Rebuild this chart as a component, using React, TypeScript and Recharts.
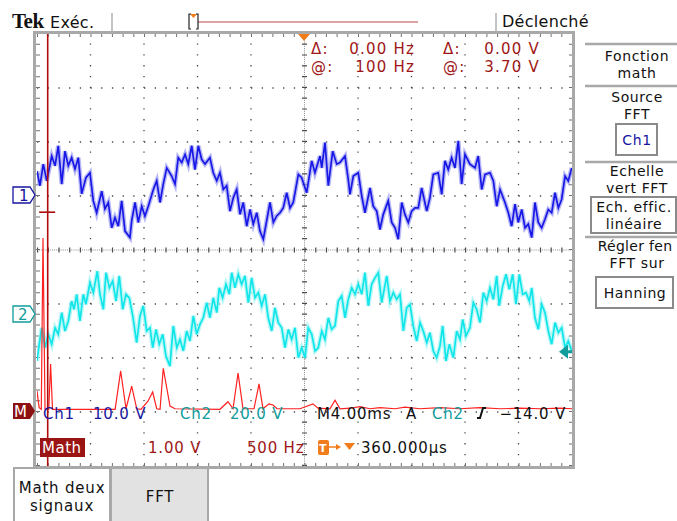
import { LineChart, Line, XAxis, YAxis, ReferenceLine, ReferenceDot } from "recharts";

const FONT = "'DejaVu Sans', sans-serif";
const READ_RED = "#9e1616";
const NAVY = "#1616a0";
const TEAL = "#109c9c";

// time axis: 4.00 ms/div, 10 divisions
const timeDomain = [0, 40];
// FFT axis: 500 Hz/div
const freqDomain = [0, 5000];

// Ch1, 10.0 V/div, ground 3 div below the top
const ch1Time = [
  0, 0.22, 0.47, 0.73, 1.1, 1.35, 1.59, 1.85, 2.09, 2.34,
  2.59, 2.84, 3.09, 3.34, 3.66, 3.96, 4.21, 4.46, 4.84, 5.08,
  5.33, 5.59, 5.83, 6.08, 6.33, 6.58, 6.95, 7.08, 7.33, 7.57,
  7.83, 8.07, 8.32, 8.7, 8.95, 9.2, 9.44, 9.7, 10.07, 10.32,
  10.56, 10.82, 11.07, 11.31, 11.57, 11.81, 12.06, 12.31, 12.56, 12.93,
  13.18, 13.44, 13.68, 13.93, 14.18, 14.43, 14.68, 14.93, 15.18, 15.42,
  15.68, 15.93, 16.17, 16.43, 16.67, 16.92, 17.17, 17.42, 17.67, 17.92,
  18.17, 18.41, 18.67, 18.92, 19.16, 19.54, 19.79, 20.16, 20.54, 20.78,
  21.16, 21.29, 21.53, 21.78, 22.11, 22.41, 22.65, 23.03, 23.27, 23.4,
  23.65, 24.02, 24.28, 24.52, 24.9, 25.14, 25.4, 25.64, 25.89, 26.26,
  26.52, 26.77, 27.01, 27.27, 27.51, 27.76, 28.01, 28.26, 28.51, 28.76,
  29.14, 29.38, 29.63, 30.0, 30.26, 30.5, 30.75, 31.0, 31.25, 31.5,
  31.75, 32.0, 32.37, 32.75, 32.99, 33.25, 33.5, 33.87, 34.12, 34.37,
  34.62, 34.99, 35.24, 35.49, 35.74, 35.98, 36.24, 36.49, 36.73, 36.99,
  37.23, 37.48, 37.73, 37.98, 38.23, 38.48, 38.73, 38.98, 39.23, 39.48,
  39.72, 39.98,
];
const ch1Volts = [
  4.6, 1.9, 5.9, 2.8, 7.4, 5.6, 9.3, 2.2, 8.3, 5.6,
  7.1, 5.0, 7.1, 0.4, 3.4, 4.3, -0.9, -3.1, 0.9, -2.4,
  -1.2, -5.9, -4.0, -5.6, -0.9, -6.5, -7.7, -4.6, -1.2, -4.9,
  -1.9, -3.7, -1.9, 1.2, 2.8, -1.2, 2.2, 5.2, 3.7, 2.2,
  7.1, 6.2, 7.7, 5.9, 9.3, 4.9, 9.3, 6.8, 5.9, 7.1,
  4.3, 2.8, 4.3, 1.2, 1.9, -2.8, -0.3, 1.2, -3.4, -1.2,
  -5.6, -2.5, -5.2, -3.1, -6.5, -8.0, -4.6, -1.2, -4.9, -3.7,
  -3.1, -2.2, 0.6, -2.2, -1.2, 4.0, 3.4, 0.6, 6.5, 4.3,
  7.4, 5.2, 9.9, 1.9, 8.3, 5.9, 6.2, 7.4, 3.1, 0.3,
  3.7, 4.3, 0, -3.1, 1.5, -1.9, -2.8, -6.2, -3.4, -0.9,
  -4.9, -5.9, -8.0, -1.2, -3.4, -4.9, -2.8, -2.2, -2.2, 1.5,
  -2.8, -0.3, 4.0, 4.3, 0.3, 6.5, 4.9, 7.1, 5.2, 10.2,
  2.2, 7.7, 5.9, 5.2, 7.4, 1.2, 4.0, 4.3, 2.8, -1.9,
  1.2, -1.2, -3.1, -5.6, -1.5, -4.9, -2.5, -5.9, -5.2, -7.7,
  -1.2, -4.9, -5.9, -4.3, -2.5, -3.1, 0.6, -2.2, -0.6, 3.7,
  2.8, 5.2,
];

// Ch2, 20.0 V/div
const ch2Time = [
  0, 0.17, 0.35, 0.6, 0.84, 1.1, 1.35, 1.59, 1.85, 2.09,
  2.34, 2.59, 2.77, 2.97, 3.21, 3.46, 3.66, 3.96, 4.21, 4.51,
  4.71, 4.96, 5.16, 5.41, 5.66, 5.91, 6.15, 6.41, 6.65, 6.9,
  7.16, 7.45, 7.7, 7.95, 8.2, 8.45, 8.65, 8.9, 9.14, 9.4,
  9.64, 9.94, 10.19, 10.45, 10.69, 10.94, 11.19, 11.44, 11.69, 11.94,
  12.19, 12.43, 12.69, 12.93, 13.18, 13.44, 13.63, 13.88, 14.13, 14.38,
  14.56, 14.8, 15.05, 15.3, 15.55, 15.8, 16.05, 16.3, 16.55, 16.8,
  17.05, 17.29, 17.55, 17.79, 18.04, 18.3, 18.54, 18.79, 19.04, 19.29,
  19.54, 19.79, 20.04, 20.28, 20.54, 20.79, 21.03, 21.29, 21.53, 21.78,
  22.03, 22.28, 22.53, 22.78, 23.03, 23.27, 23.53, 23.78, 24.02, 24.28,
  24.52, 24.77, 25.02, 25.27, 25.52, 25.77, 26.15, 26.39, 26.64, 26.89,
  27.14, 27.39, 27.64, 27.89, 28.13, 28.39, 28.64, 28.88, 29.14, 29.38,
  29.63, 29.88, 30.13, 30.33, 30.58, 30.83, 31.13, 31.38, 31.63, 31.83,
  32.07, 32.37, 32.62, 32.87, 33.12, 33.37, 33.62, 33.87, 34.12, 34.37,
  34.56, 34.82, 35.07, 35.31, 35.57, 35.81, 36.06, 36.31, 36.56, 36.81,
  36.99, 37.23, 37.48, 37.73, 37.98, 38.23, 38.48, 38.73, 38.98, 39.23,
  39.48, 39.72, 39.98,
];
const ch2Volts = [
  -17.4, -11.2, -5.1, -12.5, -7.5, -11.2, -5.1, -7.5, 0.5, -6.3,
  -2.6, 4.8, 1.7, 7.3, -2.6, 7.3, 3.6, 11.6, 7.9, 15.9,
  7.3, 1.7, 15.3, 9.7, 12.2, 4.8, 14.1, 1.7, 7.3, 6.0,
  -0.7, -10.6, -0.7, 3.0, -6.3, -5.1, -12.5, -5.7, -11.2, -7.5,
  -15.6, -19.3, -4.4, -12.5, -9.4, -13.7, -6.3, -10.0, -0.7, -7.5,
  -3.8, -1.4, 4.2, -1.4, 6.0, 0.5, 9.7, 6.0, 11.0, 7.3,
  15.3, 9.7, 14.7, 11.0, 14.1, 4.2, 13.4, 6.0, 7.9, 3.0,
  7.3, -1.4, -6.3, 2.3, -3.2, -5.1, -12.5, -5.7, -9.4, -5.1,
  -16.2, -12.5, -16.2, -5.1, -7.5, -13.7, -12.5, -6.3, -9.4, -1.4,
  -5.7, -4.4, 4.8, 6.7, -1.4, 5.4, 9.7, 7.3, 11.0, 7.3,
  15.3, 3.0, 11.0, 13.4, 15.3, 4.2, 14.1, 4.8, 7.9, 5.4,
  7.3, -6.3, 2.3, 3.6, -4.4, -10.0, -3.2, -6.3, -10.6, -6.9,
  -13.7, -16.2, -11.9, -4.4, -17.4, -11.2, -16.2, -6.3, -9.4, -2.0,
  -8.1, -5.1, 4.2, 1.7, -3.2, 7.9, 4.8, 9.7, 5.4, 14.1,
  3.0, 10.4, 14.7, 9.1, 14.7, 3.6, 14.7, 7.3, 7.9, 4.8,
  9.7, -1.4, -5.7, 3.6, 0.5, -6.3, -11.2, -3.2, -6.9, -5.1,
  -12.5, -10.0, -13.7,
];

// Math (FFT of Ch1), 1.00 V/div
const fftFreq = [
  0, 20, 40, 56, 75, 110, 127, 145, 590, 730,
  782, 832, 885, 932, 972, 1037, 1081, 1119, 1150, 1180,
  1243, 1290, 1710, 1785, 1832, 1879, 1925, 2028, 2075, 2112,
  2168, 2206, 2243, 2458, 2579, 2626, 2738, 2785, 2832, 2925,
  3019, 3112, 3206, 3346, 3439, 3579, 3766, 3953, 4140, 4327,
  4514, 4701, 4888, 5000,
];
const fftVolts = [
  0.39, 0.08, 0.05, 3.22, 0.06, 0.05, 0.89, 0.05, 0.05, 0.05,
  0.76, 0.06, 0.48, 0.06, 0.05, 0.2, 0.37, 0.06, 0.05, 0.81,
  0.11, 0.06, 0.05, 0.19, 0.06, 0.72, 0.06, 0.06, 0.52, 0.06,
  0.15, 0.13, 0.06, 0.06, 0.15, 0.07, 0.06, 0.22, 0.06, 0.07,
  0.1, 0.06, 0.08, 0.06, 0.09, 0.06, 0.08, 0.06, 0.08, 0.06,
  0.07, 0.06, 0.07, 0.06,
];

const cursorFreq = 100;
const cursorLevel = 3.7;
const triggerLevel = -14.0;

// graticule: time divisions (ms) and math-scale divisions (V)
const gridCols = [4, 8, 12, 16, 24, 28, 32, 36];
const gridRows = [0, 1, 2, 4, 5, 6];
const centerCol = 20;
const centerRow = 3;
const edgeCols = [0, 40];
const edgeRows = [-1, 7];

const ch1Data = ch1Time.map((t, i) => ({ t, v: ch1Volts[i] }));
const ch2Data = ch2Time.map((t, i) => ({ t, v: ch2Volts[i] }));
const fftData = fftFreq.map((f, i) => ({ f, v: fftVolts[i] }));

const TriggerArrow = (props: any) => {
  const { cx, cy } = props;
  return (
    <g>
      <polygon points={`${cx - 13},${cy} ${cx - 4},${cy - 7} ${cx - 4},${cy + 7}`} fill={TEAL} />
      <line x1={cx - 6} y1={cy} x2={cx} y2={cy} stroke={TEAL} strokeWidth={3} />
    </g>
  );
};

const Txt = ({ x, y, children, fill = "#111", size = 15, anchor = "start", spacing = 0.8, weight = "normal", family = FONT }: any) => (
  <text x={x} y={y} fill={fill} fontSize={size} textAnchor={anchor} letterSpacing={spacing} fontWeight={weight} fontFamily={family}>
    {children}
  </text>
);

const menuLines = [44, 86, 162, 237];
const MENU = 14;
const RD = 15;

const Overlay = () => (
  <svg width={677} height={521} style={{ position: "absolute", left: 0, top: 0, pointerEvents: "none" }}>
    {/* top status bar */}
    <Txt x={12} y={28} size={21} weight="bold" spacing={-0.5} family="'Liberation Serif', serif">Tek</Txt>
    <Txt x={50} y={28} size={16} spacing={0.3}>Exéc.</Txt>
    <line x1={112} y1={13} x2={112} y2={33} stroke="#b0b0b0" strokeWidth={1.5} />
    <line x1={198} y1={22} x2={418} y2={22} stroke="#c04848" strokeWidth={1.2} />
    <polygon points="190,14 197,14 193.5,18" fill="#f07c1c" />
    <path d="M191,14 h-2 v15 h2 M196,14 h2 v15 h-2" stroke="#222" strokeWidth={1.2} fill="none" />
    <line x1={496} y1={13} x2={496} y2={33} stroke="#b0b0b0" strokeWidth={1.5} />
    <Txt x={502} y={27} size={16} spacing={0.3}>Déclenché</Txt>

    {/* trigger position marker */}
    <polygon points="298,34 310,34 304,41" fill="#f07c1c" />

    {/* cursor readouts */}
    <Txt x={311} y={54} size={RD} spacing={1.2} fill={READ_RED}>Δ:</Txt>
    <Txt x={415} y={54} size={RD} spacing={1.2} fill={READ_RED} anchor="end">0.00 Hz</Txt>
    <Txt x={443} y={54} size={RD} spacing={1.2} fill={READ_RED}>Δ:</Txt>
    <Txt x={540} y={54} size={RD} spacing={1.2} fill={READ_RED} anchor="end">0.00 V</Txt>
    <Txt x={311} y={72} size={RD} spacing={1.2} fill={READ_RED}>@:</Txt>
    <Txt x={415} y={72} size={RD} spacing={1.2} fill={READ_RED} anchor="end">100 Hz</Txt>
    <Txt x={443} y={72} size={RD} spacing={1.2} fill={READ_RED}>@:</Txt>
    <Txt x={540} y={72} size={RD} spacing={1.2} fill={READ_RED} anchor="end">3.70 V</Txt>

    {/* channel ground markers */}
    <path d="M13,187 h17 l5,8 l-5,8 h-17 z" fill="#fff" stroke={NAVY} strokeWidth={1.3} />
    <Txt x={19} y={201} size={15} fill={NAVY} spacing={0}>1</Txt>
    <path d="M13,306 h17 l5,8 l-5,8 h-17 z" fill="#fff" stroke={TEAL} strokeWidth={1.3} />
    <Txt x={18} y={320} size={15} fill={TEAL} spacing={0}>2</Txt>
    <path d="M13,403 h17 l5,8 l-5,8 h-17 z" fill="#8c1010" />
    <Txt x={14} y={417} size={15} fill="#fff" spacing={0}>M</Txt>

    {/* right menu */}
    {menuLines.map((y) => (
      <line key={y} x1={585} y1={y} x2={677} y2={y} stroke="#a8a8a8" strokeWidth={2.5} />
    ))}
    <Txt x={637} y={61} size={MENU} spacing={0.6} anchor="middle">Fonction</Txt>
    <Txt x={637} y={78} size={MENU} spacing={0.6} anchor="middle">math</Txt>
    <Txt x={637} y={102} size={MENU} spacing={0.6} anchor="middle">Source</Txt>
    <Txt x={637} y={119} size={MENU} spacing={0.6} anchor="middle">FFT</Txt>
    <rect x={616} y={124} width={41} height={31} fill="#fff" stroke="#8a8a8a" strokeWidth={2} />
    <Txt x={637} y={145} size={MENU} spacing={0.6} anchor="middle" fill={NAVY}>Ch1</Txt>
    <Txt x={637} y={176} size={MENU} spacing={0.6} anchor="middle">Echelle</Txt>
    <Txt x={637} y={193} size={MENU} spacing={0.6} anchor="middle">vert FFT</Txt>
    <rect x={591} y={197} width={85} height={36} fill="#fff" stroke="#8a8a8a" strokeWidth={2} />
    <Txt x={634} y={212} size={MENU} spacing={0.6} anchor="middle">Ech. effic.</Txt>
    <Txt x={634} y={229} size={MENU} spacing={0.6} anchor="middle">linéaire</Txt>
    <Txt x={635} y={251} size={MENU} spacing={0.3} anchor="middle">Régler fen</Txt>
    <Txt x={637} y={268} size={MENU} spacing={0.6} anchor="middle">FFT sur</Txt>
    <rect x={596} y={277} width={77} height={31} fill="#fff" stroke="#8a8a8a" strokeWidth={2} />
    <Txt x={635} y={298} size={MENU} spacing={0.6} anchor="middle">Hanning</Txt>

    {/* bottom readouts */}
    <Txt x={43} y={419} fill={NAVY}>Ch1</Txt>
    <Txt x={93} y={419} fill={NAVY}>10.0 V</Txt>
    <Txt x={180} y={419} fill={TEAL}>Ch2</Txt>
    <Txt x={230} y={419} fill={TEAL}>20.0 V</Txt>
    <Txt x={317} y={419}>M4.00ms</Txt>
    <Txt x={406} y={419}>A</Txt>
    <Txt x={432} y={419} fill={TEAL}>Ch2</Txt>
    <path d="M477,418 h3 l3,-10 h3" stroke="#111" strokeWidth={2} fill="none" />
    <Txt x={566} y={419} anchor="end">−14.0 V</Txt>

    <rect x={40} y={438} width={45} height={19} fill="#9a1414" />
    <Txt x={42} y={453} fill="#fff" spacing={0.5}>Math</Txt>
    <Txt x={148} y={453} fill={READ_RED}>1.00 V</Txt>
    <Txt x={247} y={453} fill={READ_RED}>500 Hz</Txt>
    <rect x={318} y={440} width={11} height={15} rx={2} fill="#f07c1c" />
    <Txt x={319} y={452} size={11} fill="#fff" spacing={0} weight="bold">T</Txt>
    <line x1={329} y1={447} x2={339} y2={447} stroke="#f07c1c" strokeWidth={1.5} />
    <polygon points="336,444 341,447 336,450" fill="#f07c1c" />
    <polygon points="344,443 355,443 349.5,450" fill="#f07c1c" />
    <Txt x={361} y={453}>360.000μs</Txt>

    {/* soft buttons */}
    <rect x={14} y={468} width={96} height={56} fill="#fff" stroke="#a8a8a8" strokeWidth={2} />
    <rect x={111} y={468} width={97} height={56} fill="#e2e2e2" stroke="#a8a8a8" strokeWidth={2} />
    <Txt x={62} y={493} anchor="middle">Math deux</Txt>
    <Txt x={62} y={511} anchor="middle">signaux</Txt>
    <Txt x={160} y={502} anchor="middle">FFT</Txt>
  </svg>
);

const GRID_DOT = "#4a4a4a";
const G = { xAxisId: "t", yAxisId: "math" };

export default function App() {
  return (
    <div style={{ position: "absolute", left: 0, top: 0, width: 677, height: 521, background: "#fff", overflow: "hidden" }}>
      <LineChart width={677} height={521} margin={{ top: 34, right: 105, bottom: 55, left: 37 }}>
        <XAxis xAxisId="t" dataKey="t" type="number" domain={timeDomain} hide allowDataOverflow />
        <XAxis xAxisId="f" dataKey="f" type="number" domain={freqDomain} hide allowDataOverflow />
        <YAxis yAxisId="ch1" type="number" domain={[-50, 30]} hide allowDataOverflow />
        <YAxis yAxisId="ch2" type="number" domain={[-56.3, 103.7]} hide allowDataOverflow />
        <YAxis yAxisId="math" type="number" domain={[-1, 7]} hide allowDataOverflow />

        {/* graticule */}
        {gridCols.map((c) => (
          <ReferenceLine key={"c" + c} x={c} {...G} stroke={GRID_DOT} strokeWidth={1.3} strokeDasharray="1.3 9.5" />
        ))}
        {gridRows.map((r) => (
          <ReferenceLine key={"r" + r} y={r} {...G} stroke={GRID_DOT} strokeWidth={1.3} strokeDasharray="1.3 9.4" />
        ))}
        <ReferenceLine x={centerCol} {...G} stroke="#8a8a8a" strokeWidth={1} strokeDasharray="1 1.16" />
        <ReferenceLine y={centerRow} {...G} stroke="#8a8a8a" strokeWidth={1} strokeDasharray="1 1.14" />
        <ReferenceLine x={centerCol} {...G} stroke={GRID_DOT} strokeWidth={5} strokeDasharray="1.2 9.6" />
        <ReferenceLine y={centerRow} {...G} stroke={GRID_DOT} strokeWidth={5} strokeDasharray="1.2 9.5" />
        {edgeCols.map((c) => (
          <ReferenceLine key={"e" + c} x={c} {...G} stroke="#707070" strokeWidth={6} strokeDasharray="1 9.8" />
        ))}
        {edgeRows.map((r) => (
          <ReferenceLine key={"f" + r} y={r} {...G} stroke="#707070" strokeWidth={6} strokeDasharray="1 9.7" />
        ))}

        {/* Ch1 */}
        <Line data={ch1Data} dataKey="v" xAxisId="t" yAxisId="ch1" type="linear" stroke="#9a9af2" strokeOpacity={0.7} strokeWidth={4.5} dot={false} isAnimationActive={false} />
        <Line data={ch1Data} dataKey="v" xAxisId="t" yAxisId="ch1" type="linear" stroke="#1818e6" strokeWidth={1.7} dot={false} isAnimationActive={false} />
        {/* Ch2 */}
        <Line data={ch2Data} dataKey="v" xAxisId="t" yAxisId="ch2" type="linear" stroke="#a6f4f4" strokeOpacity={0.75} strokeWidth={4.5} dot={false} isAnimationActive={false} />
        <Line data={ch2Data} dataKey="v" xAxisId="t" yAxisId="ch2" type="linear" stroke="#10e6ea" strokeWidth={1.7} dot={false} isAnimationActive={false} />
        {/* Math FFT */}
        <Line data={fftData} dataKey="v" xAxisId="f" yAxisId="math" type="linear" stroke="#ff2020" strokeWidth={1.2} dot={false} isAnimationActive={false} />

        {/* cursors */}
        <ReferenceLine x={cursorFreq} xAxisId="f" yAxisId="math" stroke="#b00c0c" strokeWidth={1.6} />
        <ReferenceLine
          xAxisId="f"
          yAxisId="math"
          segment={[
            { x: cursorFreq - 80, y: cursorLevel },
            { x: cursorFreq + 70, y: cursorLevel },
          ]}
          stroke="#b00c0c"
          strokeWidth={1.6}
        />
        <ReferenceDot x={40} y={triggerLevel} xAxisId="t" yAxisId="ch2" r={6} shape={TriggerArrow} ifOverflow="visible" />
      </LineChart>
      <div style={{ position: "absolute", left: 33, top: 31, width: 542, height: 438, border: "3px solid #a8a8a8", boxSizing: "border-box" }} />
      <Overlay />
    </div>
  );
}
